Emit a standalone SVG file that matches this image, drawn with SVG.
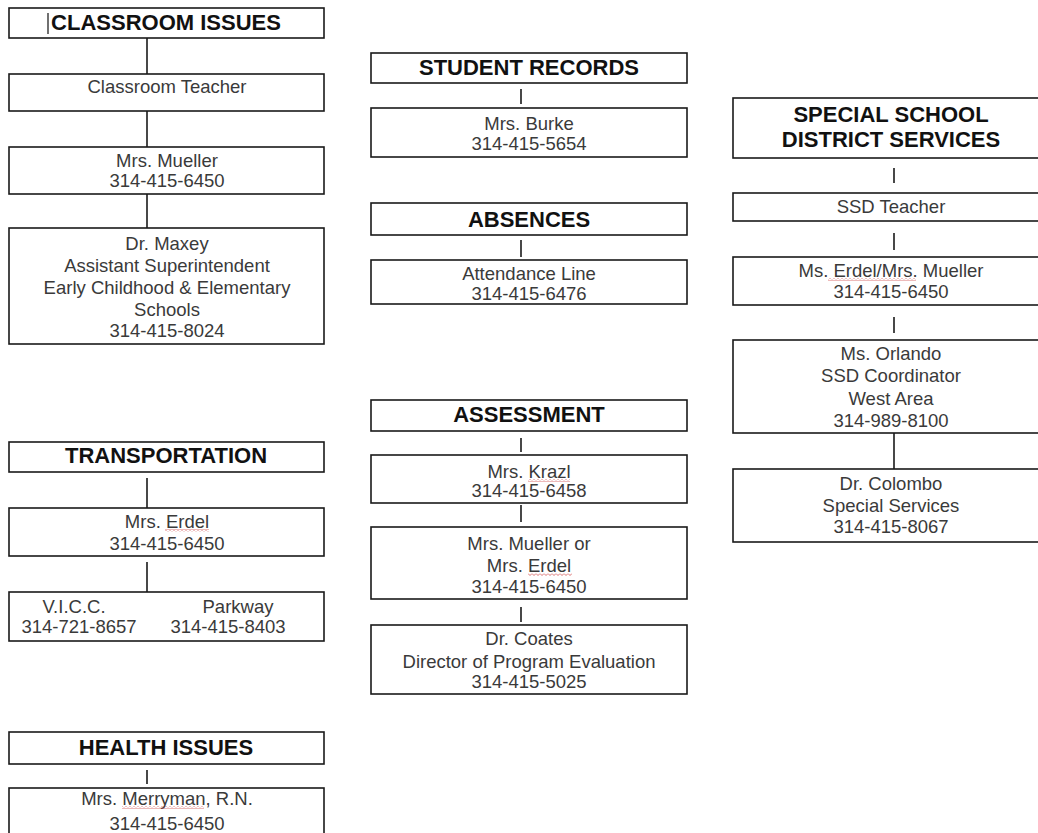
<svg xmlns="http://www.w3.org/2000/svg" width="1038" height="833" viewBox="0 0 1038 833">
<style>
.box{fill:#fff;stroke:#1a1a1a;stroke-width:1.6}
.con{stroke:#1a1a1a;stroke-width:1.6;fill:none}
.t{font-family:"Liberation Sans",Arial,sans-serif;font-size:18.5px;fill:#3a3a3a;text-anchor:middle}
.h{font-family:"Liberation Sans",Arial,sans-serif;font-size:22px;font-weight:bold;fill:#111;text-anchor:middle}
.sq{fill:url(#wave)}
</style>
<defs>
<pattern id="wave" width="4" height="3" patternUnits="userSpaceOnUse"><path d="M0 0.5 L2 2.5 L4 0.5" stroke="#d04848" stroke-width="0.9" fill="none" opacity="0.85"/></pattern>
</defs>
<rect width="1038" height="833" fill="#fff"/>
<g id="connectors">
<line class="con" x1="147" y1="38" x2="147" y2="74"/>
<line class="con" x1="147" y1="111" x2="147" y2="147"/>
<line class="con" x1="147" y1="194" x2="147" y2="228"/>
<line class="con" x1="521" y1="89" x2="521" y2="104"/>
<line class="con" x1="521" y1="240" x2="521" y2="257"/>
<line class="con" x1="894" y1="168" x2="894" y2="183"/>
<line class="con" x1="894" y1="233" x2="894" y2="250"/>
<line class="con" x1="894" y1="317" x2="894" y2="333"/>
<line class="con" x1="894" y1="433" x2="894" y2="469"/>
<line class="con" x1="147" y1="478" x2="147" y2="508"/>
<line class="con" x1="147" y1="562" x2="147" y2="592"/>
<line class="con" x1="521" y1="438" x2="521" y2="452"/>
<line class="con" x1="521" y1="505" x2="521" y2="522"/>
<line class="con" x1="521" y1="607" x2="521" y2="622"/>
<line class="con" x1="147" y1="770" x2="147" y2="784"/>
</g>
<g id="classroom-issues"><rect class="box" x="9" y="8" width="315" height="30"/><line x1="48" y1="13" x2="48" y2="34" stroke="#111" stroke-width="1.2"/><text class="h" x="166" y="30">CLASSROOM ISSUES</text></g>
<g id="classroom-teacher"><rect class="box" x="9" y="74" width="315" height="37"/><text class="t" x="167" y="93">Classroom Teacher</text></g>
<g id="mrs-mueller"><rect class="box" x="9" y="147" width="315" height="47"/><text class="t" x="167" y="167">Mrs. Mueller</text><text class="t" x="167" y="187">314-415-6450</text></g>
<g id="dr-maxey"><rect class="box" x="9" y="228" width="315" height="116"/><text class="t" x="167" y="250">Dr. Maxey</text><text class="t" x="167" y="272">Assistant Superintendent</text><text class="t" x="167" y="294">Early Childhood &amp; Elementary</text><text class="t" x="167" y="316">Schools</text><text class="t" x="167" y="337">314-415-8024</text></g>

<g id="student-records"><rect class="box" x="371" y="53" width="316" height="30"/><text class="h" x="529" y="75">STUDENT RECORDS</text></g>
<g id="mrs-burke"><rect class="box" x="371" y="108" width="316" height="49"/><text class="t" x="529" y="130">Mrs. Burke</text><text class="t" x="529" y="150">314-415-5654</text></g>
<g id="absences"><rect class="box" x="371" y="203" width="316" height="32"/><text class="h" x="529" y="227">ABSENCES</text></g>
<g id="attendance-line"><rect class="box" x="371" y="260" width="316" height="44"/><text class="t" x="529" y="280">Attendance Line</text><text class="t" x="529" y="300">314-415-6476</text></g>

<g id="ssd-services"><rect class="box" x="733" y="98" width="317" height="60"/><text class="h" x="891" y="122">SPECIAL SCHOOL</text><text class="h" x="891" y="147">DISTRICT SERVICES</text></g>
<g id="ssd-teacher"><rect class="box" x="733" y="193" width="317" height="28"/><text class="t" x="891" y="213">SSD Teacher</text></g>
<g id="ms-erdel-mueller"><rect class="box" x="733" y="257" width="317" height="48"/><text class="t" x="891" y="277">Ms. Erdel/Mrs. Mueller</text><text class="t" x="891" y="298">314-415-6450</text><rect class="sq" x="828" y="278" width="88" height="3"/></g>
<g id="ms-orlando"><rect class="box" x="733" y="340" width="317" height="93"/><text class="t" x="891" y="360">Ms. Orlando</text><text class="t" x="891" y="382">SSD Coordinator</text><text class="t" x="891" y="405">West Area</text><text class="t" x="891" y="427">314-989-8100</text></g>
<g id="dr-colombo"><rect class="box" x="733" y="469" width="317" height="73"/><text class="t" x="891" y="490">Dr. Colombo</text><text class="t" x="891" y="512">Special Services</text><text class="t" x="891" y="533">314-415-8067</text></g>

<g id="transportation"><rect class="box" x="9" y="442" width="315" height="30"/><text class="h" x="166" y="463">TRANSPORTATION</text></g>
<g id="mrs-erdel-t"><rect class="box" x="9" y="508" width="315" height="48"/><text class="t" x="167" y="528">Mrs. Erdel</text><text class="t" x="167" y="550">314-415-6450</text><rect class="sq" x="165" y="529" width="44" height="3"/></g>
<g id="vicc-parkway"><rect class="box" x="9" y="592" width="315" height="49"/><text class="t" x="74" y="613">V.I.C.C.</text><text class="t" x="79" y="633">314-721-8657</text><text class="t" x="238" y="613">Parkway</text><text class="t" x="228" y="633">314-415-8403</text></g>

<g id="assessment"><rect class="box" x="371" y="400" width="316" height="31"/><text class="h" x="529" y="422">ASSESSMENT</text></g>
<g id="mrs-krazl"><rect class="box" x="371" y="455" width="316" height="48"/><text class="t" x="529" y="478">Mrs. Krazl</text><text class="t" x="529" y="497">314-415-6458</text><rect class="sq" x="528" y="479" width="42" height="3"/></g>
<g id="mueller-or-erdel"><rect class="box" x="371" y="527" width="316" height="72"/><text class="t" x="529" y="550">Mrs. Mueller or</text><text class="t" x="529" y="572">Mrs. Erdel</text><text class="t" x="529" y="593">314-415-6450</text><rect class="sq" x="528" y="573" width="44" height="3"/></g>
<g id="dr-coates"><rect class="box" x="371" y="625" width="316" height="69"/><text class="t" x="529" y="645">Dr. Coates</text><text class="t" x="529" y="668">Director of Program Evaluation</text><text class="t" x="529" y="688">314-415-5025</text></g>

<g id="health-issues"><rect class="box" x="9" y="732" width="315" height="32"/><text class="h" x="166" y="755">HEALTH ISSUES</text></g>
<g id="mrs-merryman"><rect class="box" x="9" y="788" width="315" height="60"/><text class="t" x="167" y="805">Mrs. Merryman, R.N.</text><text class="t" x="167" y="830">314-415-6450</text><rect class="sq" x="122" y="806" width="82" height="3"/></g>
</svg>
